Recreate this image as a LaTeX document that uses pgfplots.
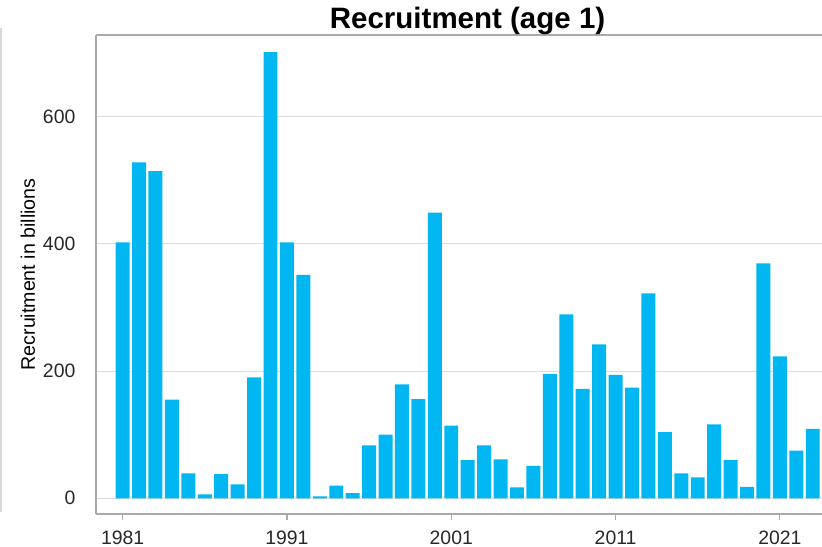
\documentclass[border=0pt]{standalone}
\usepackage{fontspec}
\setmainfont{Liberation Sans}
\usepackage{pgfplots}
\usepackage{pgfplotstable}
\pgfplotsset{compat=1.18}
\definecolor{barblue}{RGB}{0,183,241}
\definecolor{axgray}{RGB}{170,170,170}
\definecolor{gridgray}{RGB}{220,220,220}
\definecolor{txt}{RGB}{40,40,40}
\pgfplotstableread{
year value
1981 402
1982 528
1983 514
1984 155
1985 39
1986 6
1987 38
1988 22
1989 190
1990 701
1991 402
1992 351
1993 3
1994 20
1995 8
1996 83
1997 100
1998 179
1999 156
2000 449
2001 114
2002 60
2003 83
2004 61
2005 17
2006 51
2007 195
2008 289
2009 172
2010 242
2011 194
2012 174
2013 322
2014 104
2015 39
2016 33
2017 116
2018 60
2019 18
2020 369
2021 223
2022 75
2023 109
}\recruit
\begin{document}
\begin{tikzpicture}
\useasboundingbox (-48pt,-16pt) rectangle (363pt,257pt);
\begin{axis}[
  at={(0,0)}, anchor=south west,
  scale only axis, width=363.3pt, height=239.5pt,
  xmin=1979.38, xmax=2023.6, ymin=-24.7, ymax=728,
  axis x line=box, axis y line=left,
  axis line style={-, draw=axgray, line width=0.8pt},
  xtick={1981,1991,2001,2011,2021},
  xtick pos=bottom,
  xticklabels={1981,1991,2001,2011,2021},
  tick align=outside,
  x tick style={draw=axgray, line width=0.6pt},
  major tick length=3pt,
  ytick={0,200,400,600},
  y tick style={draw=none},
  ymajorgrids,
  grid style={draw=gridgray, line width=0.5pt},
  /pgf/number format/assume math mode=true,
  tick label style={font=\fontsize{9.7}{11}\selectfont, text=txt},
  yticklabel style={xshift=-3.8pt},
  xticklabel style={yshift=-2pt},
  title={Recruitment (age 1)},
  title style={font=\fontsize{14.75}{17}\selectfont\bfseries, at={(axis description cs:0.5114,1)}, anchor=base, yshift=-2.6pt, text=black},
  ylabel={Recruitment in billions},
  ylabel style={font=\fontsize{9.8}{11}\selectfont, at={(axis description cs:-0.0936,0.5)}, anchor=center, text=black},
  clip=false,
]
\addplot[ybar, bar width=0.85, fill=barblue, draw=none] table[x=year, y=value] {\recruit};
\end{axis}
\draw[gray!30, line width=0.7pt] (-47.5pt,1pt) -- (-47.5pt,243pt);
\end{tikzpicture}
\end{document}
